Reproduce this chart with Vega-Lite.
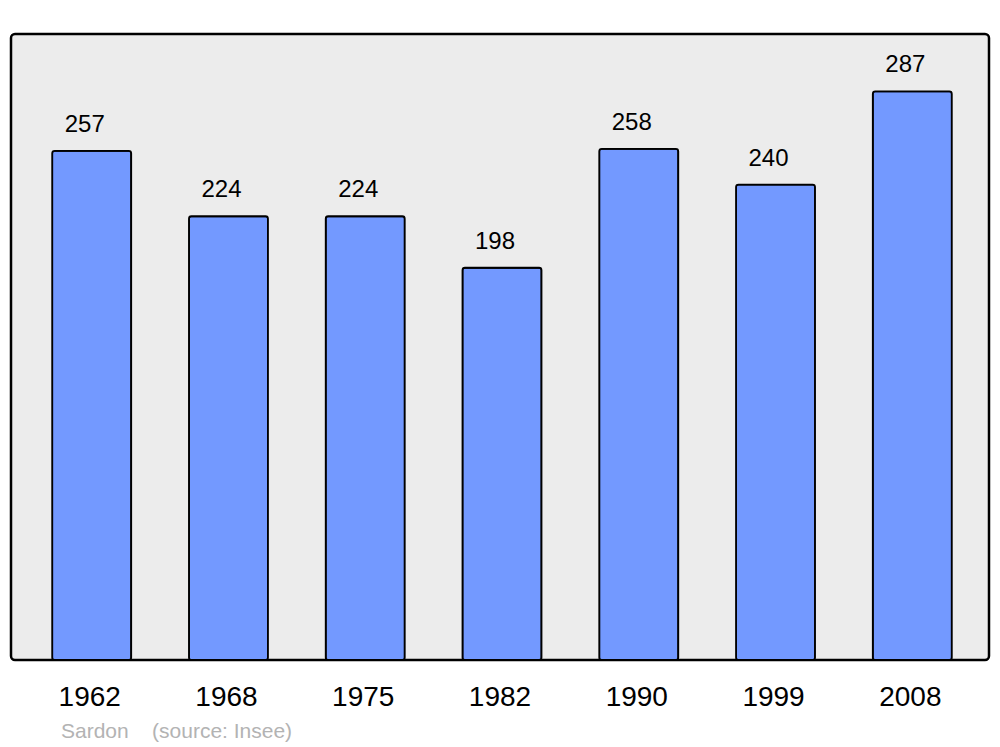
{
  "$schema": "https://vega.github.io/schema/vega-lite/v6.json",
  "width": 978,
  "height": 626,
  "autosize": {"type": "none"},
  "padding": {"left": 11, "top": 34, "right": 11, "bottom": 87},
  "background": "white",
  "title": {
    "text": "Sardon\u00a0\u00a0\u00a0 (source: Insee)",
    "orient": "bottom",
    "anchor": "start",
    "frame": "group",
    "dx": 50,
    "offset": 10,
    "fontSize": 21,
    "font": "Liberation Sans",
    "fontWeight": "normal",
    "color": "#b3b3b3"
  },
  "data": {
    "values": [
      {"year": "1962", "population": 257},
      {"year": "1968", "population": 224},
      {"year": "1975", "population": 224},
      {"year": "1982", "population": 198},
      {"year": "1990", "population": 258},
      {"year": "1999", "population": 240},
      {"year": "2008", "population": 287}
    ]
  },
  "encoding": {
    "x": {
      "field": "year",
      "type": "ordinal",
      "sort": null,
      "scale": {"range": [7, 975], "paddingInner": 0.4223, "paddingOuter": 0.25},
      "axis": {
        "title": null,
        "ticks": false,
        "domain": false,
        "labelAngle": 0,
        "labelFont": "Liberation Sans",
        "labelFontSize": 28,
        "labelColor": "black",
        "labelBaseline": "alphabetic",
        "labelPadding": 45,
        "labelOffset": -2
      }
    },
    "y": {
      "field": "population",
      "type": "quantitative",
      "scale": {"domain": [0, 316], "nice": false, "zero": true},
      "axis": null
    }
  },
  "layer": [
    {
      "mark": {"type": "bar", "fill": "#7399ff", "stroke": "black", "strokeWidth": 1.8, "cornerRadius": 2.5}
    },
    {
      "mark": {"type": "text", "baseline": "alphabetic", "dy": -19, "dx": -7, "font": "Liberation Sans", "fontSize": 24, "color": "black"},
      "encoding": {"text": {"field": "population", "type": "quantitative"}}
    }
  ],
  "config": {
    "view": {"stroke": "black", "strokeWidth": 2.5, "fill": "#ececec", "cornerRadius": 4}
  }
}
